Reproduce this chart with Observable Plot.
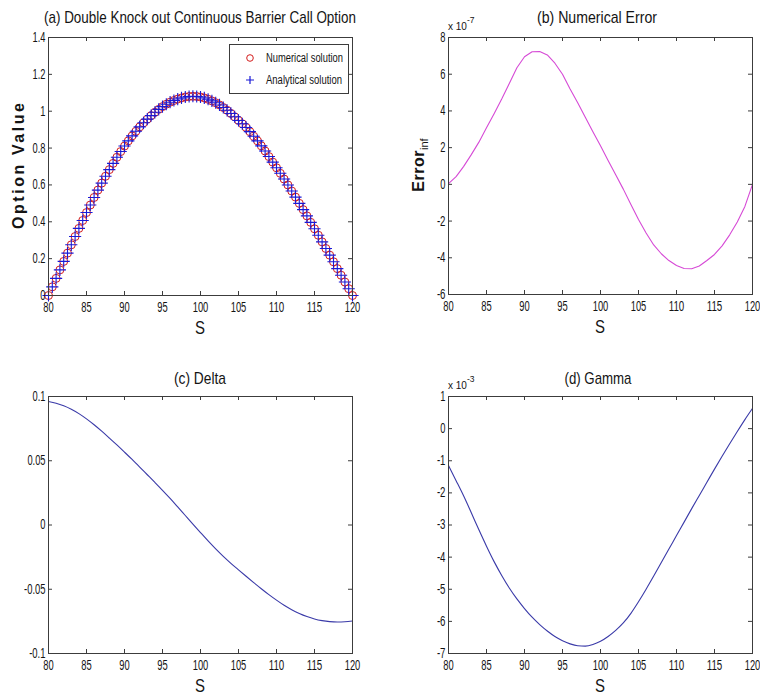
<!DOCTYPE html>
<html><head><meta charset="utf-8">
<script src="https://cdn.jsdelivr.net/npm/d3@7"></script>
<script src="https://cdn.jsdelivr.net/npm/@observablehq/plot@0.6"></script>
<style>
body{margin:0;background:#fff}
#root{position:relative;width:760px;height:700px;overflow:hidden;background:#fff}
.panel{position:absolute;width:380px;height:350px}
</style></head><body><div id="root"></div>
<script>
// ---------- data ----------
const sGrid = [80,81,82,83,84,85,86,87,88,89,90,91,92,93,94,95,96,97,98,99,100,101,102,103,104,105,106,107,108,109,110,111,112,113,114,115,116,117,118,119,120];
const optionS = [80,80.5,81,81.5,82,82.5,83,83.5,84,84.5,85,85.5,86,86.5,87,87.5,88,88.5,89,89.5,90,90.5,91,91.5,92,92.5,93,93.5,94,94.5,95,95.5,96,96.5,97,97.5,98,98.5,99,99.5,100,100.5,101,101.5,102,102.5,103,103.5,104,104.5,105,105.5,106,106.5,107,107.5,108,108.5,109,109.5,110,110.5,111,111.5,112,112.5,113,113.5,114,114.5,115,115.5,116,116.5,117,117.5,118,118.5,119,119.5,120];
const optionValue = [0.000,0.047,0.093,0.139,0.185,0.230,0.275,0.320,0.364,0.407,0.450,0.491,0.532,0.572,0.610,0.647,0.683,0.717,0.750,0.781,0.811,0.839,0.866,0.891,0.915,0.937,0.957,0.976,0.994,1.010,1.025,1.038,1.049,1.058,1.066,1.072,1.077,1.080,1.081,1.080,1.077,1.072,1.065,1.056,1.046,1.034,1.020,1.005,0.988,0.970,0.950,0.932,0.912,0.889,0.864,0.839,0.812,0.784,0.754,0.724,0.693,0.663,0.632,0.600,0.567,0.534,0.500,0.466,0.432,0.397,0.362,0.327,0.291,0.255,0.219,0.183,0.146,0.110,0.073,0.037,0.000];
// numerical error, in units of 1e-7
const errorE7 = [0.04,0.42,0.98,1.62,2.3,3.09,3.85,4.65,5.5,6.35,6.95,7.22,7.24,7.05,6.6,6.0,5.2,4.45,3.65,2.87,2.1,1.3,0.52,-0.26,-1.1,-1.91,-2.65,-3.3,-3.78,-4.15,-4.42,-4.58,-4.6,-4.45,-4.15,-3.82,-3.35,-2.75,-2.05,-1.2,0];
const deltaValue = [0.0961,0.0948,0.0928,0.0901,0.0867,0.0826,0.0780,0.0730,0.0677,0.0623,0.0567,0.0510,0.0451,0.0391,0.0331,0.0270,0.0207,0.0141,0.0074,0.0007,-0.0059,-0.0124,-0.0186,-0.0244,-0.0298,-0.0349,-0.0399,-0.0448,-0.0496,-0.0542,-0.0585,-0.0625,-0.0659,-0.0688,-0.0712,-0.0731,-0.0744,-0.0752,-0.0755,-0.0753,-0.0747];
// gamma, in units of 1e-3
const gammaE3 = [-1.15,-1.62,-2.1,-2.62,-3.15,-3.66,-4.14,-4.57,-4.96,-5.3,-5.6,-5.87,-6.1,-6.3,-6.47,-6.6,-6.7,-6.76,-6.77,-6.72,-6.62,-6.47,-6.28,-6.05,-5.75,-5.39,-5.0,-4.59,-4.17,-3.75,-3.33,-2.91,-2.49,-2.08,-1.67,-1.26,-0.86,-0.47,-0.09,0.28,0.63];

const xTicks = [80,85,90,95,100,105,110,115,120];
const optionTicks = [0,0.2,0.4,0.6,0.8,1,1.2,1.4];
const errorTicks = [-6,-4,-2,0,2,4,6,8];
const deltaTicks = [-0.1,-0.05,0,0.05,0.1];
const gammaTicks = [-7,-6,-5,-4,-3,-2,-1,0,1];

const titles = ["(a) Double Knock out Continuous Barrier Call Option","(b) Numerical Error","(c) Delta","(d) Gamma"];
const legendLabels = ["Numerical solution","Analytical solution"];

// ---------- styling ----------
const WIDE = "'Liberation Sans',Arial,sans-serif";
const AXIS = "#3c3c3c";
const TEXT = "#141414";

const optionRows = optionS.map((s,i)=>({S:s, V:optionValue[i]}));
const errorRows = sGrid.map((s,i)=>({S:s, E:errorE7[i]}));
const deltaRows = sGrid.map((s,i)=>({S:s, D:deltaValue[i]}));
const gammaRows = sGrid.map((s,i)=>({S:s, G:gammaE3[i]}));

const root = document.getElementById("root");

// narrow the tick labels to the reference's condensed look
function charW(c){ if(c===".") return 2.5; if(c==="-") return 3.4; return 5.2; }
function condense(sel){
  sel.each(function(){
    const t = this.textContent; let w = 0;
    for(const c of t) w += charW(c);
    this.setAttribute("textLength", w.toFixed(1));
    this.setAttribute("lengthAdjust","spacingAndGlyphs");
  });
}

function makePanel(cfg){
  const W=380, H=350, TL=4;
  const innerW = W-cfg.ml-cfg.mr, innerH = H-cfg.mt-cfg.mb;
  const svg = Plot.plot({
    width:W, height:H, marginLeft:cfg.ml, marginRight:cfg.mr, marginTop:cfg.mt, marginBottom:cfg.mb,
    style:{fontFamily:WIDE, fontSize:"14px", color:TEXT, background:"white", overflow:"visible"},
    x:{domain:[80,120], label:null},
    y:{domain:cfg.yDomain, label:null},
    marks:[
      ...cfg.marks,
      Plot.frame({stroke:AXIS}),
      Plot.ruleX(xTicks,{x:d=>d, insetTop:innerH-TL, stroke:AXIS}),
      Plot.ruleX(xTicks,{x:d=>d, insetBottom:innerH-TL, stroke:AXIS}),
      Plot.ruleY(cfg.yTicks,{y:d=>d, insetRight:innerW-TL, stroke:AXIS}),
      Plot.ruleY(cfg.yTicks,{y:d=>d, insetLeft:innerW-TL, stroke:AXIS}),
      Plot.axisX(xTicks,{tickSize:0, tickPadding:7, tickFormat:d=>String(d)}),
      Plot.axisY(cfg.yTicks,{tickSize:0, tickPadding:3, tickFormat:d=>String(d)})
    ]
  });
  const div = document.createElement("div");
  div.className="panel";
  div.style.left=cfg.left+"px"; div.style.top=cfg.top+"px";
  div.appendChild(svg);
  root.appendChild(div);
  const s = d3.select(svg);
  condense(s.selectAll('g[aria-label$="tick label"] text'));
  // title
  s.append("text").attr("x", cfg.ml+innerW/2 + (cfg.titleDx||0)).attr("y", cfg.titleY)
    .attr("text-anchor","middle").attr("fill",TEXT)
    .attr("textLength", cfg.titleW).attr("lengthAdjust","spacingAndGlyphs")
    .style("font-family",WIDE).style("font-size","17px").text(cfg.title);
  // x label
  s.append("text").attr("x", cfg.ml+innerW/2).attr("y", H-cfg.mb+39)
    .attr("text-anchor","middle").attr("fill",TEXT)
    .attr("textLength", 10).attr("lengthAdjust","spacingAndGlyphs")
    .style("font-family",WIDE).style("font-size","18px").text("S");
  // exponent
  if(cfg.exponent){
    const t = s.append("text").attr("x", cfg.ml).attr("y", cfg.mt-7).attr("fill",TEXT)
      .attr("text-anchor","start")
      .style("font-family",WIDE).style("font-size","10px");
    t.append("tspan").text("x 10");
    t.append("tspan").attr("dy",-7).style("font-size","8.5px").text(cfg.exponent);
  }
  return {s, innerW, innerH};
}

// (a)
const pa = makePanel({left:0, top:0, ml:48, mr:28, mt:37, mb:55, titleY:23, titleW:312, title:titles[0],
  yDomain:[0,1.4], yTicks:optionTicks,
  marks:[
    Plot.dot(optionRows,{x:"S", y:"V", r:4, symbol:"circle", stroke:"#d41c1c", strokeWidth:1}),
    Plot.dot(optionRows,{x:"S", y:"V", r:4, symbol:"plus", stroke:"#1a1ad6", strokeWidth:1.1})
  ]});
pa.s.append("text").attr("transform","translate(24,166) rotate(-90)").attr("text-anchor","middle")
  .attr("fill",TEXT).attr("textLength",126).attr("lengthAdjust","spacing")
  .style("font-family",WIDE).style("font-weight","bold").style("font-size","16px")
  .text("Option Value");
// legend
const lg = pa.s.append("g");
lg.append("rect").attr("x",229.5).attr("y",44.5).attr("width",119).attr("height",49)
  .attr("fill","white").attr("stroke",AXIS);
lg.append("circle").attr("cx",250).attr("cy",58).attr("r",3.3).attr("fill","none").attr("stroke","#d41c1c");
lg.append("path").attr("d","M246,80H254M250,76V84").attr("stroke","#1a1ad6").attr("stroke-width",1.2);
lg.append("text").attr("x",266).attr("y",62).attr("text-anchor","start").attr("fill",TEXT)
  .attr("textLength",77).attr("lengthAdjust","spacingAndGlyphs")
  .style("font-family",WIDE).style("font-size","12.5px").text(legendLabels[0]);
lg.append("text").attr("x",266).attr("y",84).attr("text-anchor","start").attr("fill",TEXT)
  .attr("textLength",76).attr("lengthAdjust","spacingAndGlyphs")
  .style("font-family",WIDE).style("font-size","12.5px").text(legendLabels[1]);

// (b)
const pb = makePanel({left:380, top:0, ml:68, mr:8, mt:37, mb:56, titleY:23, titleW:120, titleDx:-3, title:titles[1],
  yDomain:[-6,8], yTicks:errorTicks, exponent:"-7",
  marks:[Plot.line(errorRows,{x:"S", y:"E", stroke:"#d64ad6", strokeWidth:1.1})]});
const el = pb.s.append("text").attr("transform","translate(44,165) rotate(-90)").attr("text-anchor","middle")
  .attr("fill",TEXT).style("font-family",WIDE).style("font-weight","bold").style("font-size","16px");
el.append("tspan").style("letter-spacing","0.5px").text("Error");
el.append("tspan").attr("dy",4).style("font-size","11px").style("font-weight","normal").text("inf");

// (c)
makePanel({left:0, top:350, ml:48, mr:28, mt:46, mb:47, titleY:34, titleW:52, title:titles[2],
  yDomain:[-0.1,0.1], yTicks:deltaTicks,
  marks:[Plot.line(deltaRows,{x:"S", y:"D", curve:"monotone-x", stroke:"#3a3aa8", strokeWidth:1.1})]});

// (d)
makePanel({left:380, top:350, ml:68, mr:8, mt:46, mb:47, titleY:34, titleW:67, titleDx:-2, title:titles[3],
  yDomain:[-7,1], yTicks:gammaTicks, exponent:"-3",
  marks:[Plot.line(gammaRows,{x:"S", y:"G", curve:"monotone-x", stroke:"#3a3aa8", strokeWidth:1.1})]});
</script>
</body></html>
